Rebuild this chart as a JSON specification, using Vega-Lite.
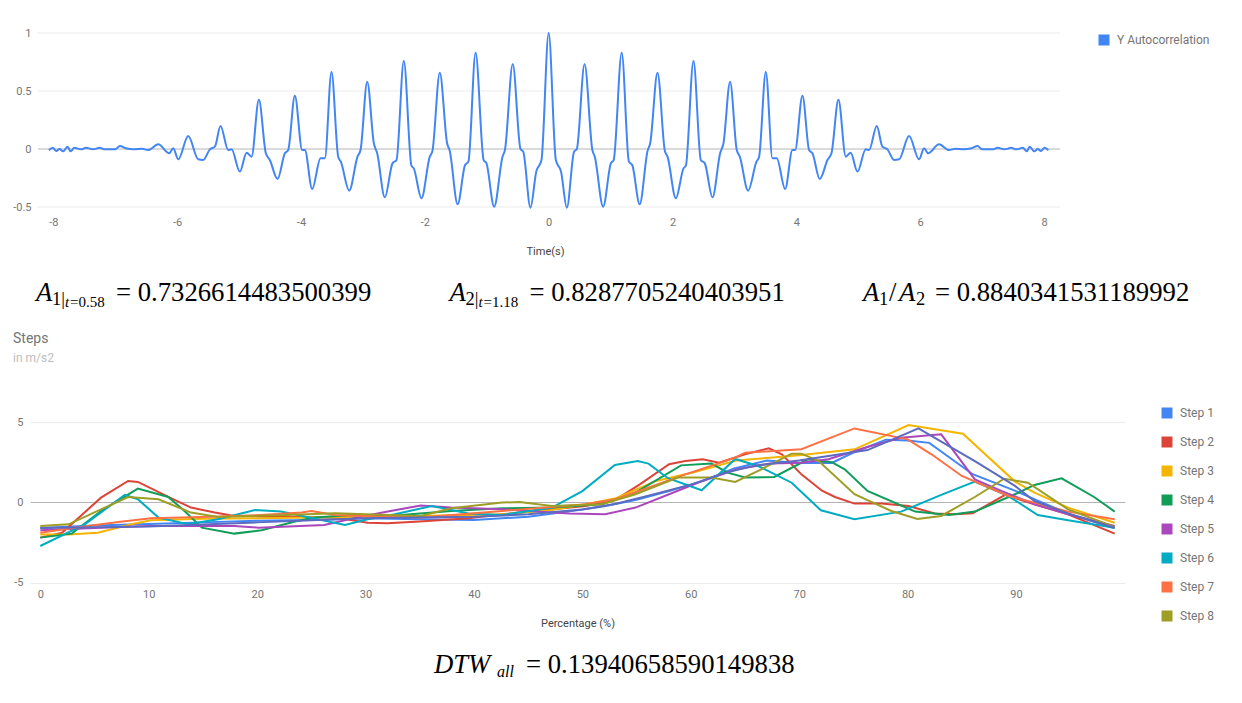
{
  "$schema": "https://vega.github.io/schema/vega-lite/v6.json",
  "background": "white",
  "padding": {"left": 12, "top": 27, "right": 0, "bottom": 0},
  "spacing": 0,
  "bounds": "flush",
  "resolve": {"scale": {"color": "independent"}, "legend": {"color": "independent"}},
  "config": {
    "view": {"stroke": null},
    "font": "Roboto",
    "axis": {
      "labelFont": "Roboto", "labelFontSize": 11, "labelColor": "#757575",
      "titleFont": "Roboto", "titleFontSize": 11, "titleFontWeight": "normal", "titleColor": "#444444",
      "domain": false, "ticks": false
    },
    "legend": {
      "labelFont": "Roboto", "labelFontSize": 12, "labelColor": "#757575",
      "title": null, "padding": 0, "symbolType": "square", "symbolSize": 30,
      "symbolStrokeWidth": 5.5, "symbolOpacity": 1, "labelOffset": 7
    }
  },
  "vconcat": [
    {
      "width": 1030,
      "height": 174,
      "layer": [
        {
          "data": {"values": [{"r": -0.5}, {"r": 0}, {"r": 0.5}, {"r": 1}]},
          "mark": {"type": "rule", "strokeWidth": 1},
          "encoding": {
            "x": {"datum": -8.247, "type": "quantitative",
                  "scale": {"domain": [-8.376, 8.258], "nice": false, "zero": false},
                  "axis": {"values": [-8, -6, -4, -2, 0, 2, 4, 6, 8], "title": "Time(s)", "grid": false, "labelPadding": 9, "titlePadding": 18, "labelExpr": "'' + datum.value"}},
            "x2": {"datum": 8.258},
            "y": {"field": "r", "type": "quantitative",
                  "scale": {"domain": [-0.5, 1], "nice": false, "zero": false},
                  "axis": {"values": [-0.5, 0, 0.5, 1], "title": null, "grid": false, "labelPadding": -1, "labelExpr": "'' + datum.value"}},
            "color": {"condition": {"test": "datum.r === 0", "value": "#b5b5b5"}, "value": "#ebebeb"}
          }
        },
        {
          "data": {"values": [
            {"t": -8.07, "r": -0.01}, {"t": -8.01, "r": 0.01}, {"t": -7.95, "r": -0.017}, {"t": -7.9, "r": 0.0},
            {"t": -7.84, "r": -0.02}, {"t": -7.77, "r": 0.02}, {"t": -7.72, "r": -0.02}, {"t": -7.66, "r": 0.01},
            {"t": -7.55, "r": -0.003}, {"t": -7.47, "r": 0.01}, {"t": -7.36, "r": -0.003}, {"t": -7.25, "r": 0.01},
            {"t": -7.17, "r": -0.003}, {"t": -7.0, "r": -0.003}, {"t": -6.925, "r": 0.026}, {"t": -6.83, "r": 0.006},
            {"t": -6.7, "r": -0.003}, {"t": -6.57, "r": 0.003}, {"t": -6.466, "r": -0.009}, {"t": -6.305, "r": 0.04},
            {"t": -6.127, "r": -0.037}, {"t": -6.063, "r": 0.006}, {"t": -5.982, "r": -0.089}, {"t": -5.821, "r": 0.112},
            {"t": -5.659, "r": -0.089}, {"t": -5.579, "r": -0.095}, {"t": -5.471, "r": -0.003}, {"t": -5.39, "r": 0.02},
            {"t": -5.299, "r": 0.198}, {"t": -5.175, "r": -0.009}, {"t": -5.121, "r": -0.003}, {"t": -4.987, "r": -0.195},
            {"t": -4.878, "r": -0.032}, {"t": -4.798, "r": -0.066}, {"t": -4.68, "r": 0.425}, {"t": -4.567, "r": -0.037},
            {"t": -4.503, "r": -0.095}, {"t": -4.378, "r": -0.259}, {"t": -4.26, "r": -0.037}, {"t": -4.206, "r": -0.009},
            {"t": -4.099, "r": 0.46}, {"t": -3.98, "r": -0.009}, {"t": -3.937, "r": -0.009}, {"t": -3.819, "r": -0.345},
            {"t": -3.684, "r": -0.08}, {"t": -3.614, "r": -0.08}, {"t": -3.507, "r": 0.667}, {"t": -3.399, "r": -0.066},
            {"t": -3.356, "r": -0.109}, {"t": -3.221, "r": -0.359}, {"t": -3.087, "r": -0.066}, {"t": -3.038, "r": -0.009},
            {"t": -2.93, "r": 0.58}, {"t": -2.823, "r": 0.049}, {"t": -2.769, "r": -0.037}, {"t": -2.646, "r": -0.417},
            {"t": -2.522, "r": -0.124}, {"t": -2.457, "r": -0.095}, {"t": -2.339, "r": 0.759}, {"t": -2.216, "r": -0.144},
            {"t": -2.178, "r": -0.167}, {"t": -2.054, "r": -0.425}, {"t": -1.92, "r": -0.066}, {"t": -1.877, "r": -0.017},
            {"t": -1.758, "r": 0.658}, {"t": -1.64, "r": 0.049}, {"t": -1.597, "r": -0.017}, {"t": -1.47, "r": -0.477},
            {"t": -1.35, "r": -0.138}, {"t": -1.296, "r": -0.109}, {"t": -1.18, "r": 0.8287705240403951}, {"t": -1.05, "r": -0.095},
            {"t": -1.004, "r": -0.124}, {"t": -0.88, "r": -0.497}, {"t": -0.745, "r": -0.066}, {"t": -0.706, "r": -0.009},
            {"t": -0.58, "r": 0.7326614483500399}, {"t": -0.455, "r": 0.0}, {"t": -0.41, "r": -0.023}, {"t": -0.294, "r": -0.506},
            {"t": -0.2, "r": -0.195}, {"t": -0.116, "r": -0.095},
            {"t": 0, "r": 1.0},
            {"t": 0.116, "r": -0.095}, {"t": 0.2, "r": -0.195}, {"t": 0.294, "r": -0.506}, {"t": 0.41, "r": -0.023},
            {"t": 0.455, "r": 0.0}, {"t": 0.58, "r": 0.7326614483500399}, {"t": 0.706, "r": -0.009}, {"t": 0.745, "r": -0.066},
            {"t": 0.88, "r": -0.497}, {"t": 1.004, "r": -0.124}, {"t": 1.05, "r": -0.095}, {"t": 1.18, "r": 0.8287705240403951},
            {"t": 1.296, "r": -0.109}, {"t": 1.35, "r": -0.138}, {"t": 1.47, "r": -0.477}, {"t": 1.597, "r": -0.017},
            {"t": 1.64, "r": 0.049}, {"t": 1.758, "r": 0.658}, {"t": 1.877, "r": -0.017}, {"t": 1.92, "r": -0.066},
            {"t": 2.054, "r": -0.425}, {"t": 2.178, "r": -0.167}, {"t": 2.216, "r": -0.144}, {"t": 2.339, "r": 0.759},
            {"t": 2.457, "r": -0.095}, {"t": 2.522, "r": -0.124}, {"t": 2.646, "r": -0.417}, {"t": 2.769, "r": -0.037},
            {"t": 2.823, "r": 0.049}, {"t": 2.93, "r": 0.58}, {"t": 3.038, "r": -0.009}, {"t": 3.087, "r": -0.066},
            {"t": 3.221, "r": -0.359}, {"t": 3.356, "r": -0.109}, {"t": 3.399, "r": -0.066}, {"t": 3.507, "r": 0.667},
            {"t": 3.614, "r": -0.08}, {"t": 3.684, "r": -0.08}, {"t": 3.819, "r": -0.345}, {"t": 3.937, "r": -0.009},
            {"t": 3.98, "r": -0.009}, {"t": 4.099, "r": 0.46}, {"t": 4.206, "r": -0.009}, {"t": 4.26, "r": -0.037},
            {"t": 4.378, "r": -0.259}, {"t": 4.503, "r": -0.095}, {"t": 4.567, "r": -0.037}, {"t": 4.68, "r": 0.425},
            {"t": 4.798, "r": -0.066}, {"t": 4.878, "r": -0.032}, {"t": 4.987, "r": -0.195}, {"t": 5.121, "r": -0.003},
            {"t": 5.175, "r": -0.009}, {"t": 5.299, "r": 0.198}, {"t": 5.39, "r": 0.02}, {"t": 5.471, "r": -0.003},
            {"t": 5.579, "r": -0.095}, {"t": 5.659, "r": -0.089}, {"t": 5.821, "r": 0.112}, {"t": 5.982, "r": -0.089},
            {"t": 6.063, "r": 0.006}, {"t": 6.127, "r": -0.037}, {"t": 6.305, "r": 0.04}, {"t": 6.466, "r": -0.009},
            {"t": 6.57, "r": 0.003}, {"t": 6.7, "r": -0.003}, {"t": 6.83, "r": 0.006}, {"t": 6.925, "r": 0.026},
            {"t": 7.0, "r": -0.003}, {"t": 7.17, "r": -0.003}, {"t": 7.25, "r": 0.01}, {"t": 7.36, "r": -0.003},
            {"t": 7.47, "r": 0.01}, {"t": 7.55, "r": -0.003}, {"t": 7.66, "r": 0.01}, {"t": 7.72, "r": -0.02},
            {"t": 7.77, "r": 0.02}, {"t": 7.84, "r": -0.02}, {"t": 7.9, "r": 0.0}, {"t": 7.95, "r": -0.017},
            {"t": 8.01, "r": 0.01}, {"t": 8.07, "r": -0.01}
          ]},
          "mark": {"type": "line", "interpolate": "monotone", "strokeWidth": 2},
          "encoding": {
            "x": {"field": "t", "type": "quantitative",
                  "scale": {"domain": [-8.376, 8.258], "nice": false, "zero": false},
                  "axis": {"values": [-8, -6, -4, -2, 0, 2, 4, 6, 8], "title": "Time(s)", "grid": false, "labelPadding": 9, "titlePadding": 18, "labelExpr": "'' + datum.value"}},
            "y": {"field": "r", "type": "quantitative",
                  "scale": {"domain": [-0.5, 1], "nice": false, "zero": false},
                  "axis": {"values": [-0.5, 0, 0.5, 1], "title": null, "grid": false, "labelPadding": -1, "labelExpr": "'' + datum.value"}},
            "color": {"datum": "Y Autocorrelation", "type": "nominal",
                      "scale": {"range": ["#4285F4"]},
                      "legend": {"orient": "none", "legendX": 1068, "legendY": 1}}
          }
        }
      ]
    },
    {
      "width": 827,
      "height": 214.7,
      "data": {"values": [
        {"k": "f1", "a": "A", "s": "1|", "c": "t", "cv": "=0.58", "v": "= 0.7326614483500399"},
        {"k": "f2", "a": "A", "s": "2|", "c": "t", "cv": "=1.18", "v": "= 0.8287705240403951"},
        {"k": "f3", "a": "A", "s": "1", "sl": "/", "b": "A", "s2": "2", "v": "= 0.8840341531189992"}
      ]},
      "encoding": {"x": {"field": "k", "type": "ordinal", "scale": {"type": "point", "padding": 0}, "axis": null}},
      "layer": [
        {"mark": {"type": "text", "font": "Liberation Serif", "fontStyle": "italic", "fontSize": 26.7, "align": "left", "baseline": "alphabetic", "color": "#000", "dx": 6, "dy": -13.4},
         "encoding": {"text": {"field": "a"}}},
        {"transform": [{"filter": "datum.k !== 'f3'"}],
         "mark": {"type": "text", "font": "Liberation Serif", "fontSize": 18.5, "align": "left", "baseline": "alphabetic", "color": "#000", "dx": 22, "dy": -9.4},
         "encoding": {"text": {"field": "s"}}},
        {"transform": [{"filter": "datum.k !== 'f3'"}],
         "mark": {"type": "text", "font": "Liberation Serif", "fontStyle": "italic", "fontSize": 15, "align": "left", "baseline": "alphabetic", "color": "#000", "dx": 35, "dy": -7},
         "encoding": {"text": {"field": "c"}}},
        {"transform": [{"filter": "datum.k !== 'f3'"}],
         "mark": {"type": "text", "font": "Liberation Serif", "fontSize": 15, "align": "left", "baseline": "alphabetic", "color": "#000", "dx": 40, "dy": -7},
         "encoding": {"text": {"field": "cv"}}},
        {"transform": [{"filter": "datum.k !== 'f3'"}],
         "mark": {"type": "text", "font": "Liberation Serif", "fontSize": 26.7, "align": "left", "baseline": "alphabetic", "color": "#000", "dx": 86, "dy": -13.4},
         "encoding": {"text": {"field": "v"}}},
        {"transform": [{"filter": "datum.k === 'f3'"}],
         "mark": {"type": "text", "font": "Liberation Serif", "fontSize": 18.5, "align": "left", "baseline": "alphabetic", "color": "#000", "dx": 22, "dy": -9.4},
         "encoding": {"text": {"field": "s"}}},
        {"transform": [{"filter": "datum.k === 'f3'"}],
         "mark": {"type": "text", "font": "Liberation Serif", "fontSize": 26.7, "align": "left", "baseline": "alphabetic", "color": "#000", "dx": 32, "dy": -13.4},
         "encoding": {"text": {"field": "sl"}}},
        {"transform": [{"filter": "datum.k === 'f3'"}],
         "mark": {"type": "text", "font": "Liberation Serif", "fontStyle": "italic", "fontSize": 26.7, "align": "left", "baseline": "alphabetic", "color": "#000", "dx": 42, "dy": -13.4},
         "encoding": {"text": {"field": "b"}}},
        {"transform": [{"filter": "datum.k === 'f3'"}],
         "mark": {"type": "text", "font": "Liberation Serif", "fontSize": 18.5, "align": "left", "baseline": "alphabetic", "color": "#000", "dx": 59, "dy": -9.4},
         "encoding": {"text": {"field": "s2"}}},
        {"transform": [{"filter": "datum.k === 'f3'"}],
         "mark": {"type": "text", "font": "Liberation Serif", "fontSize": 26.7, "align": "left", "baseline": "alphabetic", "color": "#000", "dx": 78, "dy": -13.4},
         "encoding": {"text": {"field": "v"}}}
      ]
    },
    {
      "title": {"text": "Steps", "subtitle": "in m/s2", "anchor": "start", "frame": "group", "dx": -17, "offset": 43,
                "font": "Roboto", "fontSize": 14, "fontWeight": "normal", "color": "#757575",
                "subtitleFont": "Roboto", "subtitleFontSize": 12, "subtitleColor": "#bdbdbd", "subtitlePadding": 7},
      "width": 1095,
      "height": 160.6,
      "data": {"values": [
        {"step": "Step 1", "p": 0, "v": -1.6}, {"step": "Step 1", "p": 5, "v": -1.45}, {"step": "Step 1", "p": 10, "v": -1.35},
        {"step": "Step 1", "p": 15, "v": -1.25}, {"step": "Step 1", "p": 20, "v": -1.15}, {"step": "Step 1", "p": 25, "v": -1.1},
        {"step": "Step 1", "p": 30, "v": -1.0}, {"step": "Step 1", "p": 35, "v": -1.05}, {"step": "Step 1", "p": 40, "v": -1.1},
        {"step": "Step 1", "p": 45, "v": -0.9}, {"step": "Step 1", "p": 49, "v": -0.55}, {"step": "Step 1", "p": 52, "v": -0.25},
        {"step": "Step 1", "p": 55, "v": 0.15}, {"step": "Step 1", "p": 58, "v": 0.7}, {"step": "Step 1", "p": 61, "v": 1.3},
        {"step": "Step 1", "p": 64, "v": 2.1}, {"step": "Step 1", "p": 67, "v": 2.6}, {"step": "Step 1", "p": 70, "v": 2.45},
        {"step": "Step 1", "p": 73, "v": 2.45}, {"step": "Step 1", "p": 75, "v": 3.1}, {"step": "Step 1", "p": 78, "v": 3.9},
        {"step": "Step 1", "p": 80, "v": 3.85}, {"step": "Step 1", "p": 82, "v": 3.7}, {"step": "Step 1", "p": 86, "v": 1.75},
        {"step": "Step 1", "p": 90, "v": 0.7}, {"step": "Step 1", "p": 92, "v": 0.1}, {"step": "Step 1", "p": 95, "v": -0.75},
        {"step": "Step 1", "p": 99, "v": -1.6},

        {"step": "Step 2", "p": 0, "v": -2.2}, {"step": "Step 2", "p": 2, "v": -1.9}, {"step": "Step 2", "p": 5.6, "v": 0.29},
        {"step": "Step 2", "p": 8.1, "v": 1.33}, {"step": "Step 2", "p": 9, "v": 1.27}, {"step": "Step 2", "p": 12.1, "v": 0.25},
        {"step": "Step 2", "p": 13.9, "v": -0.33}, {"step": "Step 2", "p": 16.1, "v": -0.64}, {"step": "Step 2", "p": 17.9, "v": -0.85},
        {"step": "Step 2", "p": 22, "v": -0.9}, {"step": "Step 2", "p": 27.2, "v": -0.95}, {"step": "Step 2", "p": 30.2, "v": -1.27},
        {"step": "Step 2", "p": 32, "v": -1.3}, {"step": "Step 2", "p": 35, "v": -1.2}, {"step": "Step 2", "p": 39.5, "v": -1.0},
        {"step": "Step 2", "p": 42.6, "v": -0.75}, {"step": "Step 2", "p": 47.2, "v": -0.44}, {"step": "Step 2", "p": 50.3, "v": -0.23},
        {"step": "Step 2", "p": 53.1, "v": 0.19}, {"step": "Step 2", "p": 55.3, "v": 1.12}, {"step": "Step 2", "p": 58, "v": 2.37},
        {"step": "Step 2", "p": 59.5, "v": 2.57}, {"step": "Step 2", "p": 61.1, "v": 2.68}, {"step": "Step 2", "p": 62.6, "v": 2.47},
        {"step": "Step 2", "p": 65, "v": 2.99}, {"step": "Step 2", "p": 67.2, "v": 3.36}, {"step": "Step 2", "p": 68.4, "v": 2.99},
        {"step": "Step 2", "p": 70.2, "v": 1.74}, {"step": "Step 2", "p": 72.1, "v": 0.72}, {"step": "Step 2", "p": 73.3, "v": 0.33},
        {"step": "Step 2", "p": 75.1, "v": -0.08}, {"step": "Step 2", "p": 77.6, "v": -0.08}, {"step": "Step 2", "p": 80.1, "v": -0.23},
        {"step": "Step 2", "p": 82.5, "v": -0.7}, {"step": "Step 2", "p": 84.4, "v": -0.75}, {"step": "Step 2", "p": 86, "v": -0.68},
        {"step": "Step 2", "p": 89, "v": 0.46}, {"step": "Step 2", "p": 91.7, "v": -0.12}, {"step": "Step 2", "p": 94.8, "v": -0.75},
        {"step": "Step 2", "p": 99.1, "v": -1.95},

        {"step": "Step 3", "p": 0, "v": -2.0}, {"step": "Step 3", "p": 2.6, "v": -2.0}, {"step": "Step 3", "p": 5.3, "v": -1.89},
        {"step": "Step 3", "p": 8.4, "v": -1.37}, {"step": "Step 3", "p": 10.2, "v": -1.12}, {"step": "Step 3", "p": 14.9, "v": -1.02},
        {"step": "Step 3", "p": 20, "v": -1.0}, {"step": "Step 3", "p": 25, "v": -0.95}, {"step": "Step 3", "p": 30, "v": -0.9},
        {"step": "Step 3", "p": 35, "v": -0.85}, {"step": "Step 3", "p": 42.6, "v": -0.75}, {"step": "Step 3", "p": 47, "v": -0.5},
        {"step": "Step 3", "p": 50.3, "v": -0.12}, {"step": "Step 3", "p": 53.1, "v": 0.25}, {"step": "Step 3", "p": 56.8, "v": 1.33},
        {"step": "Step 3", "p": 60.2, "v": 1.85}, {"step": "Step 3", "p": 64.2, "v": 2.6}, {"step": "Step 3", "p": 67.3, "v": 2.78},
        {"step": "Step 3", "p": 70.2, "v": 2.95}, {"step": "Step 3", "p": 75.1, "v": 3.3}, {"step": "Step 3", "p": 80.1, "v": 4.81},
        {"step": "Step 3", "p": 85.1, "v": 4.27}, {"step": "Step 3", "p": 89.9, "v": 1.29}, {"step": "Step 3", "p": 91.7, "v": 0.6},
        {"step": "Step 3", "p": 94.8, "v": -0.33}, {"step": "Step 3", "p": 99.1, "v": -1.27},

        {"step": "Step 4", "p": 0, "v": -2.2}, {"step": "Step 4", "p": 2.9, "v": -1.95}, {"step": "Step 4", "p": 5.6, "v": -0.54},
        {"step": "Step 4", "p": 9, "v": 0.85}, {"step": "Step 4", "p": 11.8, "v": 0.33}, {"step": "Step 4", "p": 13.3, "v": -0.54},
        {"step": "Step 4", "p": 14.9, "v": -1.58}, {"step": "Step 4", "p": 17.9, "v": -1.95}, {"step": "Step 4", "p": 20.4, "v": -1.74},
        {"step": "Step 4", "p": 23.5, "v": -1.2}, {"step": "Step 4", "p": 25.3, "v": -0.95}, {"step": "Step 4", "p": 28.4, "v": -0.81},
        {"step": "Step 4", "p": 33.3, "v": -0.79}, {"step": "Step 4", "p": 37.9, "v": -0.54}, {"step": "Step 4", "p": 42.6, "v": -0.37},
        {"step": "Step 4", "p": 47.2, "v": -0.33}, {"step": "Step 4", "p": 51.8, "v": -0.12}, {"step": "Step 4", "p": 54.9, "v": 0.6},
        {"step": "Step 4", "p": 59.1, "v": 2.3}, {"step": "Step 4", "p": 61.9, "v": 2.41}, {"step": "Step 4", "p": 63.4, "v": 1.85},
        {"step": "Step 4", "p": 65, "v": 1.54}, {"step": "Step 4", "p": 67.7, "v": 1.58}, {"step": "Step 4", "p": 70.8, "v": 2.68},
        {"step": "Step 4", "p": 73, "v": 2.5}, {"step": "Step 4", "p": 74.2, "v": 2.05}, {"step": "Step 4", "p": 76.3, "v": 0.71},
        {"step": "Step 4", "p": 80.7, "v": -0.58}, {"step": "Step 4", "p": 83.8, "v": -0.79}, {"step": "Step 4", "p": 86.2, "v": -0.58},
        {"step": "Step 4", "p": 89.9, "v": 0.5}, {"step": "Step 4", "p": 91.7, "v": 1.08}, {"step": "Step 4", "p": 94.2, "v": 1.49},
        {"step": "Step 4", "p": 97.2, "v": 0.33}, {"step": "Step 4", "p": 99.1, "v": -0.58},

        {"step": "Step 5", "p": 0, "v": -1.74}, {"step": "Step 5", "p": 5, "v": -1.6}, {"step": "Step 5", "p": 9.9, "v": -1.47},
        {"step": "Step 5", "p": 17.9, "v": -1.47}, {"step": "Step 5", "p": 20.1, "v": -1.58}, {"step": "Step 5", "p": 26.2, "v": -1.41},
        {"step": "Step 5", "p": 28.7, "v": -1.02}, {"step": "Step 5", "p": 31.8, "v": -0.6}, {"step": "Step 5", "p": 35.1, "v": -0.2},
        {"step": "Step 5", "p": 37.9, "v": -0.33}, {"step": "Step 5", "p": 42.6, "v": -0.44}, {"step": "Step 5", "p": 48.8, "v": -0.7},
        {"step": "Step 5", "p": 52.1, "v": -0.75}, {"step": "Step 5", "p": 54.9, "v": -0.33}, {"step": "Step 5", "p": 58, "v": 0.5},
        {"step": "Step 5", "p": 61.1, "v": 1.33}, {"step": "Step 5", "p": 64.2, "v": 2.05}, {"step": "Step 5", "p": 67.3, "v": 2.41},
        {"step": "Step 5", "p": 70.2, "v": 2.47}, {"step": "Step 5", "p": 72.7, "v": 2.68}, {"step": "Step 5", "p": 76.3, "v": 3.44},
        {"step": "Step 5", "p": 79.4, "v": 4.02}, {"step": "Step 5", "p": 83.1, "v": 4.23}, {"step": "Step 5", "p": 86.2, "v": 1.43},
        {"step": "Step 5", "p": 88.7, "v": 0.7}, {"step": "Step 5", "p": 91.7, "v": -0.12}, {"step": "Step 5", "p": 94.8, "v": -0.75},
        {"step": "Step 5", "p": 99.1, "v": -1.47},

        {"step": "Step 6", "p": 0, "v": -2.72}, {"step": "Step 6", "p": 4.1, "v": -1.37}, {"step": "Step 6", "p": 7.8, "v": 0.46},
        {"step": "Step 6", "p": 9, "v": 0.19}, {"step": "Step 6", "p": 10.9, "v": -0.95}, {"step": "Step 6", "p": 13.6, "v": -1.37},
        {"step": "Step 6", "p": 16.4, "v": -1.06}, {"step": "Step 6", "p": 19.8, "v": -0.48}, {"step": "Step 6", "p": 22.2, "v": -0.58},
        {"step": "Step 6", "p": 25.6, "v": -1.06}, {"step": "Step 6", "p": 28.1, "v": -1.41}, {"step": "Step 6", "p": 30.2, "v": -1.06},
        {"step": "Step 6", "p": 32.7, "v": -0.75}, {"step": "Step 6", "p": 36.1, "v": -0.23}, {"step": "Step 6", "p": 39.5, "v": -0.7},
        {"step": "Step 6", "p": 42.6, "v": -0.79}, {"step": "Step 6", "p": 47.2, "v": -0.33}, {"step": "Step 6", "p": 50, "v": 0.7},
        {"step": "Step 6", "p": 53, "v": 2.32}, {"step": "Step 6", "p": 55.1, "v": 2.57}, {"step": "Step 6", "p": 56.1, "v": 2.41},
        {"step": "Step 6", "p": 57.9, "v": 1.5}, {"step": "Step 6", "p": 61, "v": 0.75}, {"step": "Step 6", "p": 64.1, "v": 2.7},
        {"step": "Step 6", "p": 66.2, "v": 2.26}, {"step": "Step 6", "p": 69.3, "v": 1.22}, {"step": "Step 6", "p": 72, "v": -0.5},
        {"step": "Step 6", "p": 75.1, "v": -1.06}, {"step": "Step 6", "p": 79.4, "v": -0.58}, {"step": "Step 6", "p": 83.1, "v": 0.46},
        {"step": "Step 6", "p": 86.2, "v": 1.29}, {"step": "Step 6", "p": 89.3, "v": 0.39}, {"step": "Step 6", "p": 92, "v": -0.79},
        {"step": "Step 6", "p": 94.8, "v": -1.12}, {"step": "Step 6", "p": 99.1, "v": -1.58},

        {"step": "Step 7", "p": 0, "v": -1.89}, {"step": "Step 7", "p": 3, "v": -1.6}, {"step": "Step 7", "p": 7.2, "v": -1.22},
        {"step": "Step 7", "p": 10.2, "v": -1.0}, {"step": "Step 7", "p": 14.9, "v": -0.91}, {"step": "Step 7", "p": 20, "v": -0.8},
        {"step": "Step 7", "p": 24.1, "v": -0.64}, {"step": "Step 7", "p": 25, "v": -0.54}, {"step": "Step 7", "p": 27.2, "v": -0.79},
        {"step": "Step 7", "p": 30, "v": -0.85}, {"step": "Step 7", "p": 35.1, "v": -0.95}, {"step": "Step 7", "p": 42.6, "v": -0.54},
        {"step": "Step 7", "p": 50.3, "v": -0.12}, {"step": "Step 7", "p": 53.1, "v": 0.19}, {"step": "Step 7", "p": 56, "v": 0.9},
        {"step": "Step 7", "p": 59.5, "v": 1.74}, {"step": "Step 7", "p": 62, "v": 2.3}, {"step": "Step 7", "p": 64.1, "v": 2.78},
        {"step": "Step 7", "p": 65, "v": 3.09}, {"step": "Step 7", "p": 70.2, "v": 3.3}, {"step": "Step 7", "p": 75.1, "v": 4.6},
        {"step": "Step 7", "p": 80, "v": 3.92}, {"step": "Step 7", "p": 82.2, "v": 2.99}, {"step": "Step 7", "p": 85, "v": 1.64},
        {"step": "Step 7", "p": 89.3, "v": 0.39}, {"step": "Step 7", "p": 91.7, "v": -0.02}, {"step": "Step 7", "p": 94.8, "v": -0.58},
        {"step": "Step 7", "p": 99.1, "v": -1.06},

        {"step": "Step 8", "p": 0, "v": -1.47}, {"step": "Step 8", "p": 2.6, "v": -1.37}, {"step": "Step 8", "p": 5.6, "v": -0.44},
        {"step": "Step 8", "p": 8.1, "v": 0.33}, {"step": "Step 8", "p": 10.9, "v": 0.19}, {"step": "Step 8", "p": 13.9, "v": -0.64},
        {"step": "Step 8", "p": 16.4, "v": -0.91}, {"step": "Step 8", "p": 22, "v": -0.8}, {"step": "Step 8", "p": 27.2, "v": -0.68},
        {"step": "Step 8", "p": 35.1, "v": -0.85}, {"step": "Step 8", "p": 37.9, "v": -0.37}, {"step": "Step 8", "p": 42.6, "v": -0.02},
        {"step": "Step 8", "p": 44.2, "v": 0.02}, {"step": "Step 8", "p": 47.2, "v": -0.23}, {"step": "Step 8", "p": 51.8, "v": -0.12},
        {"step": "Step 8", "p": 54.9, "v": 0.5}, {"step": "Step 8", "p": 58.8, "v": 1.54}, {"step": "Step 8", "p": 61.9, "v": 1.54},
        {"step": "Step 8", "p": 64.1, "v": 1.27}, {"step": "Step 8", "p": 66.5, "v": 2.05}, {"step": "Step 8", "p": 69.3, "v": 3.03},
        {"step": "Step 8", "p": 70.2, "v": 3.03}, {"step": "Step 8", "p": 71.8, "v": 2.57}, {"step": "Step 8", "p": 75.1, "v": 0.5},
        {"step": "Step 8", "p": 78.5, "v": -0.54}, {"step": "Step 8", "p": 80.9, "v": -1.04}, {"step": "Step 8", "p": 83.1, "v": -0.85},
        {"step": "Step 8", "p": 86.2, "v": 0.33}, {"step": "Step 8", "p": 88.9, "v": 1.47}, {"step": "Step 8", "p": 91.1, "v": 1.22},
        {"step": "Step 8", "p": 94.8, "v": -0.44}, {"step": "Step 8", "p": 99.1, "v": -1.54},

        {"step": "Step 9", "p": 0, "v": -1.6}, {"step": "Step 9", "p": 10, "v": -1.5}, {"step": "Step 9", "p": 20, "v": -1.25},
        {"step": "Step 9", "p": 30, "v": -1.0}, {"step": "Step 9", "p": 40, "v": -0.9}, {"step": "Step 9", "p": 45, "v": -0.75},
        {"step": "Step 9", "p": 50, "v": -0.45}, {"step": "Step 9", "p": 53, "v": -0.1}, {"step": "Step 9", "p": 56, "v": 0.4},
        {"step": "Step 9", "p": 60, "v": 1.1}, {"step": "Step 9", "p": 63, "v": 1.8}, {"step": "Step 9", "p": 66, "v": 2.3},
        {"step": "Step 9", "p": 70, "v": 2.6}, {"step": "Step 9", "p": 72.7, "v": 2.88}, {"step": "Step 9", "p": 76.3, "v": 3.25},
        {"step": "Step 9", "p": 81, "v": 4.6}, {"step": "Step 9", "p": 86.2, "v": 2.57}, {"step": "Step 9", "p": 89.9, "v": 1.02},
        {"step": "Step 9", "p": 91.7, "v": 0.08}, {"step": "Step 9", "p": 94.8, "v": -0.7}, {"step": "Step 9", "p": 99.1, "v": -1.58}
      ]},
      "mark": {"type": "line", "strokeWidth": 2},
      "encoding": {
        "x": {"field": "p", "type": "quantitative",
              "scale": {"domain": [-0.95, 100.05], "nice": false, "zero": false},
              "axis": {"values": [0, 10, 20, 30, 40, 50, 60, 70, 80, 90], "title": "Percentage (%)", "grid": false, "labelPadding": 6, "titlePadding": 18, "labelExpr": "'' + datum.value"}},
        "y": {"field": "v", "type": "quantitative",
              "scale": {"domain": [-5, 5], "nice": false, "zero": false},
              "axis": {"values": [-5, 0, 5], "title": null, "grid": true, "gridWidth": 1,
                       "gridColor": {"condition": {"test": "datum.value === 0", "value": "#b5b5b5"}, "value": "#ebebeb"},
                       "labelPadding": 7, "labelExpr": "'' + datum.value"}},
        "color": {"field": "step", "type": "nominal",
                  "scale": {"domain": ["Step 1", "Step 2", "Step 3", "Step 4", "Step 5", "Step 6", "Step 7", "Step 8", "Step 9"],
                            "range": ["#4285F4", "#DB4437", "#F4B400", "#0F9D58", "#AB47BC", "#00ACC1", "#FF7043", "#9E9D24", "#5C6BC0"]},
                  "legend": {"values": ["Step 1", "Step 2", "Step 3", "Step 4", "Step 5", "Step 6", "Step 7", "Step 8"],
                             "orient": "none", "legendX": 1131, "legendY": -15, "rowPadding": 1}}
      }
    },
    {
      "width": 1172,
      "height": 100,
      "data": {"values": [{"k": "dtw", "n": "DTW", "s": "all", "v": "= 0.13940658590149838"}]},
      "encoding": {"x": {"field": "k", "type": "ordinal", "scale": {"type": "point", "padding": 0.5}, "axis": null}},
      "layer": [
        {"mark": {"type": "text", "font": "Liberation Serif", "fontStyle": "italic", "fontSize": 26.7, "align": "left", "baseline": "alphabetic", "color": "#000", "dx": -182, "dy": 39.7},
         "encoding": {"text": {"field": "n"}}},
        {"mark": {"type": "text", "font": "Liberation Serif", "fontStyle": "italic", "fontSize": 16, "align": "left", "baseline": "alphabetic", "color": "#000", "dx": -119, "dy": 44},
         "encoding": {"text": {"field": "s"}}},
        {"mark": {"type": "text", "font": "Liberation Serif", "fontSize": 26.7, "align": "left", "baseline": "alphabetic", "color": "#000", "dx": -90, "dy": 39.7},
         "encoding": {"text": {"field": "v"}}}
      ]
    }
  ]
}
